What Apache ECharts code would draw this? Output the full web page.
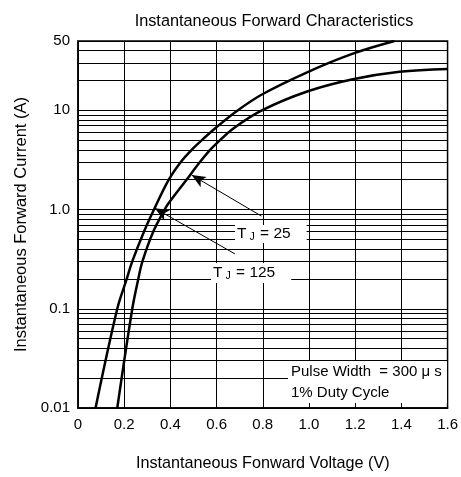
<!DOCTYPE html>
<html>
<head>
<meta charset="utf-8">
<script src="https://cdn.jsdelivr.net/npm/echarts@6/dist/echarts.min.js"></script>
<style>html,body{margin:0;padding:0;background:#fff}#c{width:461px;height:477px}</style>
</head>
<body>
<div id="c"></div>
<script>
// ---- data ----
const titleText = 'Instantaneous Forward Characteristics';
const xName = 'Instantaneous Fonward Voltage (V)';
const yName = 'Instantaneous Forward Current (A)';
const xTickLabels = ['0', '0.2', '0.4', '0.6', '0.8', '1.0', '1.2', '1.4', '1.6'];
const yTickValues = [0.01, 0.1, 1, 10, 50];
const yTickLabels = ['0.01', '0.1', '1.0', '10', '50'];
const minorGridCurrents = [0.02, 0.03, 0.04, 0.05, 0.06, 0.07, 0.08, 0.09,
  0.2, 0.3, 0.4, 0.5, 0.6, 0.7, 0.8, 0.9,
  2, 3, 4, 5, 6, 7, 8, 9,
  20, 30, 40];
// TJ = 125 curve
const tj125Voltage = [0.076, 0.170, 0.211, 0.235, 0.286, 0.329, 0.393, 0.446, 0.494, 0.546, 0.598, 0.685, 0.796, 0.992, 1.19, 1.37];
const tj125Current = [0.01, 0.1, 0.2, 0.3, 0.6, 1.0, 2.0, 3.04, 4.04, 5.26, 6.72, 9.75, 14.45, 24.2, 37.3, 50];
// TJ = 25 curve
const tj25Voltage = [0.170, 0.235, 0.261, 0.279, 0.326, 0.375, 0.396, 0.470, 0.527, 0.572, 0.598, 0.674, 0.796, 0.992, 1.19, 1.392, 1.6];
const tj25Current = [0.01, 0.1, 0.2, 0.3, 0.6, 1.0, 1.19, 2.0, 3.0, 4.0, 4.6, 6.6, 10, 15.5, 20.6, 24.5, 26.1];
// annotation arrows (data space): [from, to]
const arrow25 = [[0.794, 0.86], [0.492, 2.23]];
const arrow125 = [[0.679, 0.358], [0.333, 1.03]];
const label25 = ['T', 'J', ' = 25'];
const label125 = ['T', 'J', ' = 125'];
const noteLines = ['Pulse Width  = 300 μ s', '1% Duty Cycle'];

const FONT = '"Liberation Sans", Arial, sans-serif';
const pair = (xs, ys) => xs.map((x, i) => [x, ys[i]]);

const chart = echarts.init(document.getElementById('c'), null, {renderer: 'canvas'});
const richSub = {
  t: {fontSize: 15.5, fontFamily: FONT, color: '#000', lineHeight: 18},
  s: {fontSize: 10.5, fontFamily: FONT, color: '#000', lineHeight: 10, verticalAlign: 'bottom', padding: [0, 1, 0, 3]}
};
chart.setOption({
  animation: false,
  title: {
    text: titleText, left: 269, top: 9, textAlign: 'center',
    textStyle: {fontSize: 16.3, fontWeight: 'normal', fontFamily: FONT, color: '#000'}
  },
  grid: {left: 78, right: 13, top: 41, bottom: 64, show: true, borderColor: '#000', borderWidth: 1.5, containLabel: false},
  xAxis: {
    type: 'value', min: 0, max: 1.6, interval: 0.2,
    name: xName, nameLocation: 'middle', nameGap: 48,
    nameTextStyle: {fontSize: 16.2, fontFamily: FONT, color: '#000'},
    axisLine: {show: true, lineStyle: {color: '#000', width: 1.5}},
    axisTick: {show: false},
    axisLabel: {color: '#000', fontSize: 15, fontFamily: FONT, margin: 9,
      formatter: v => xTickLabels[Math.round(v / 0.2)]},
    splitLine: {show: true, lineStyle: {color: '#000', width: 1}}
  },
  yAxis: {
    type: 'log', logBase: 10, min: 0.01, max: 50,
    name: yName, nameLocation: 'middle', nameGap: 47,
    nameTextStyle: {fontSize: 16.5, fontFamily: FONT, color: '#000'},
    axisLine: {show: true, lineStyle: {color: '#000', width: 1.5}},
    axisTick: {show: false},
    axisLabel: {color: '#000', fontSize: 15, fontFamily: FONT, margin: 8, showMaxLabel: true, showMinLabel: true,
      formatter: v => {
        let best = 0, d = Infinity;
        yTickValues.forEach((t, i) => { const e = Math.abs(Math.log10(v) - Math.log10(t)); if (e < d) { d = e; best = i; } });
        return yTickLabels[best];
      }},
    splitLine: {show: true, lineStyle: {color: '#000', width: 1}}
  },
  series: [
    {
      type: 'line', data: [], silent: true, z: 1,
      markLine: {
        silent: true, symbol: ['none', 'none'], label: {show: false},
        lineStyle: {color: '#000', width: 1, type: 'solid'},
        emphasis: {disabled: true},
        data: minorGridCurrents.map(v => ({yAxis: v}))
      }
    },
    {
      name: 'TJ = 125', type: 'line', smooth: 0.35, showSymbol: false, z: 5,
      lineStyle: {color: '#000', width: 2.5}, itemStyle: {color: '#000'},
      data: pair(tj125Voltage, tj125Current)
    },
    {
      name: 'TJ = 25', type: 'line', smooth: 0.35, showSymbol: false, z: 5,
      lineStyle: {color: '#000', width: 2.5}, itemStyle: {color: '#000'},
      data: pair(tj25Voltage, tj25Current)
    },
    {
      type: 'line', data: [], silent: true, z: 6,
      markLine: {
        silent: true, symbol: ['none', 'arrow'], symbolSize: [9, 14], label: {show: false},
        lineStyle: {color: '#000', width: 1, type: 'solid'},
        itemStyle: {color: '#000'},
        emphasis: {disabled: true},
        data: [
          [{coord: arrow25[0]}, {coord: arrow25[1]}],
          [{coord: arrow125[0]}, {coord: arrow125[1]}]
        ]
      }
    }
  ],
  graphic: [
    {type: 'text', left: 235, top: 225, z: 100,
      style: {text: `{t|${label25[0]}}{s|${label25[1]}}{t|${label25[2]}}`, rich: richSub,
        backgroundColor: '#fff', padding: [0, 16, 0, 2]}},
    {type: 'text', left: 211, top: 263, z: 100,
      style: {text: `{t|${label125[0]}}{s|${label125[1]}}{t|${label125[2]}}`, rich: richSub,
        backgroundColor: '#fff', padding: [1, 16, 1, 2]}},
    {type: 'text', left: 288, top: 361, z: 100,
      style: {text: noteLines.join('\n'), font: '15px ' + FONT, fill: '#000', lineHeight: 21,
        backgroundColor: '#fff', padding: [0, 2, 0, 3], width: 154}}
  ]
});
</script>
</body>
</html>
